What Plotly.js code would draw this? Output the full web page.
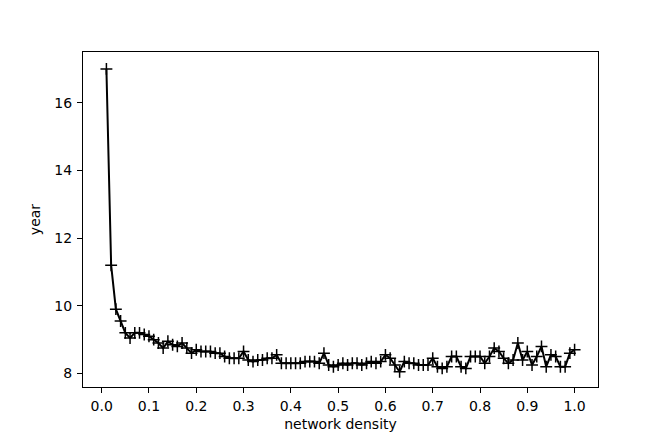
<!DOCTYPE html>
<html>
<head>
<meta charset="utf-8">
<script src="https://cdn.plot.ly/plotly-3.0.1.min.js"></script>
<style>html,body{margin:0;padding:0;background:#fff;}#chart{width:664px;height:443px;}</style>
</head>
<body>
<div id="chart"></div>
<script>
const density = [];
for (let i = 1; i <= 100; i++) density.push(+(i / 100).toFixed(2));
const years = [
 17.0, 11.2, 9.9, 9.55, 9.2, 9.05, 9.2, 9.2, 9.15, 9.1,
 9.0, 8.9, 8.75, 8.95, 8.85, 8.8, 8.9, 8.75, 8.6, 8.7,
 8.65, 8.65, 8.65, 8.6, 8.6, 8.5, 8.45, 8.45, 8.45, 8.65,
 8.4, 8.35, 8.4, 8.4, 8.45, 8.45, 8.55, 8.3, 8.3, 8.3,
 8.3, 8.3, 8.35, 8.35, 8.35, 8.3, 8.6, 8.25, 8.2, 8.25,
 8.3, 8.25, 8.3, 8.3, 8.25, 8.3, 8.35, 8.3, 8.35, 8.55,
 8.45, 8.25, 8.05, 8.35, 8.3, 8.3, 8.25, 8.25, 8.25, 8.45,
 8.2, 8.15, 8.2, 8.5, 8.5, 8.2, 8.15, 8.5, 8.5, 8.5,
 8.3, 8.5, 8.75, 8.65, 8.45, 8.3, 8.4, 8.9, 8.4, 8.65,
 8.25, 8.5, 8.8, 8.2, 8.55, 8.5, 8.2, 8.2, 8.6, 8.7
];
const xTicks = [0, 0.1, 0.2, 0.3, 0.4, 0.5, 0.6, 0.7, 0.8, 0.9, 1.0];
const xTickText = ['0.0','0.1','0.2','0.3','0.4','0.5','0.6','0.7','0.8','0.9','1.0'];
const yTicks = [8, 10, 12, 14, 16];

const trace = {
  x: density, y: years, type: 'scatter', mode: 'lines+markers',
  line: {color: '#000', width: 2},
  marker: {symbol: 'cross-thin-open', size: 8.5, color: '#000', line: {color: '#000', width: 1.5}},
  hoverinfo: 'none'
};
const font = {family: 'DejaVu Sans', size: 14, color: '#000'};
const layout = {
  width: 664, height: 443,
  margin: {l: 83, r: 66, t: 52, b: 56},
  paper_bgcolor: '#fff', plot_bgcolor: '#fff',
  showlegend: false,
  font: font,
  xaxis: {
    range: [-0.0395, 1.0495], tickvals: xTicks, ticktext: xTickText,
    ticks: 'outside', ticklen: 5, tickwidth: 1, tickcolor: '#000',
    ticklabelstandoff: 1,
    showgrid: false, zeroline: false, showline: true, mirror: true,
    linecolor: '#000', linewidth: 1, tickfont: font,
    title: {text: 'network density', font: font, standoff: 6}
  },
  yaxis: {
    range: [7.6, 17.5], tickvals: yTicks,
    ticks: 'outside', ticklen: 5, tickwidth: 1, tickcolor: '#000',
    ticklabelstandoff: 2,
    showgrid: false, zeroline: false, showline: true, mirror: true,
    linecolor: '#000', linewidth: 1, tickfont: font,
    title: {text: 'year', font: font, standoff: 10}
  }
};
Plotly.newPlot('chart', [trace], layout, {staticPlot: true});
</script>
</body>
</html>
